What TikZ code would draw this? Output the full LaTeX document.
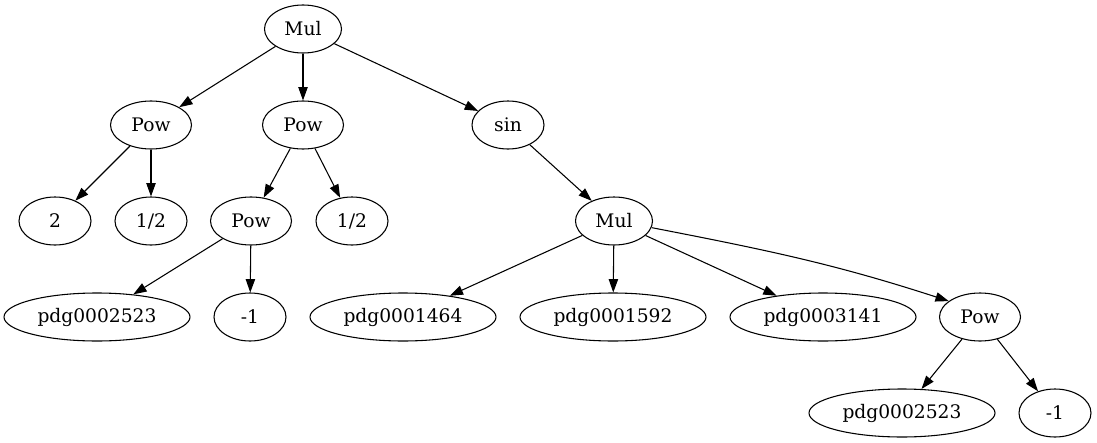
\documentclass[tikz,border=0pt]{standalone}
\usepackage{fontspec}
\setmainfont{DejaVu Serif}
\usetikzlibrary{arrows.meta, shapes.geometric}

\begin{document}
\begin{tikzpicture}[x=0.75pt, y=-0.75pt,
        vertex/.style={draw, ellipse, line width=0.8pt, inner sep=0pt,
                minimum height=36pt, font=\fontsize{14}{16}\selectfont},
        opnode/.style={vertex, minimum width=58pt},
        numnode/.style={vertex, minimum width=54pt},
        symnode/.style={vertex, minimum width=139.5pt},
        edge/.style={line width=0.8pt, -{Triangle[length=10pt, width=7pt]}}]
        \useasboundingbox (0, 0) rectangle (1097, 443);
        \node [opnode, minimum width=57.75pt] (mul) at (303, 29) {Mul};
        \node [opnode, minimum width=60.75pt] (powa) at (151, 125) {Pow};
        \node [opnode, minimum width=60.75pt] (powb) at (303, 125) {Pow};
        \node [numnode] (sin) at (508, 125) {sin};
        \node [numnode] (two) at (55, 221) {2};
        \node [numnode] (halfa) at (151, 221) {1/2};
        \node [opnode, minimum width=60.75pt] (powc) at (251, 221) {Pow};
        \node [numnode] (halfb) at (352, 221) {1/2};
        \node [opnode, minimum width=57.75pt] (mulb) at (614, 221) {Mul};
        \node [symnode] (pdga) at (97, 317) {pdg0002523};
        \node [numnode] (mone) at (250, 317) {-1};
        \node [symnode] (pdgc) at (403, 317) {pdg0001464};
        \node [symnode] (pdgd) at (613, 317) {pdg0001592};
        \node [symnode] (pdge) at (823, 317) {pdg0003141};
        \node [opnode, minimum width=60.75pt] (powd) at (980, 317) {Pow};
        \node [symnode] (pdgb) at (902, 413) {pdg0002523};
        \node [numnode] (moneb) at (1055, 413) {-1};
        \draw [edge] (mul) -- (powa);
        \draw [edge] (mul) -- (powb);
        \draw [edge] (mul) -- (sin);
        \draw [edge] (powa) -- (two);
        \draw [edge] (powa) -- (halfa);
        \draw [edge] (powb) -- (powc);
        \draw [edge] (powb) -- (halfb);
        \draw [edge] (sin) -- (mulb);
        \draw [edge] (powc) -- (pdga);
        \draw [edge] (powc) -- (mone);
        \draw [edge] (mulb) -- (pdgc);
        \draw [edge] (mulb) -- (pdgd);
        \draw [edge] (mulb) -- (pdge);
        \draw [edge] (mulb.-10) to [out=-11, in=162] (powd.153);
        \draw [edge] (powd) -- (pdgb);
        \draw [edge] (powd) -- (moneb);
    \end{tikzpicture}
\end{document}
